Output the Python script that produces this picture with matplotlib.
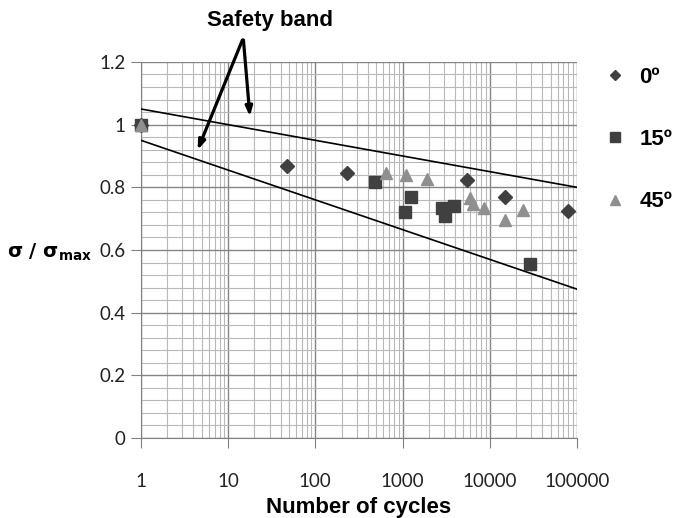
import numpy as np
import matplotlib
matplotlib.use('Agg')
import matplotlib.pyplot as plt
from matplotlib.ticker import LogLocator, MultipleLocator, FixedLocator
from matplotlib.lines import Line2D

# data
cycles_0 = [1, 47, 230, 5500, 15000, 80000]
stress_0 = [1.0, 0.868, 0.845, 0.822, 0.770, 0.724]

cycles_15 = [1, 480, 1070, 1240, 2800, 3100, 3900, 29000]
stress_15 = [1.0, 0.818, 0.720, 0.770, 0.735, 0.710, 0.740, 0.556]

cycles_45 = [1, 650, 1100, 1900, 6000, 6500, 8500, 15000, 24000]
stress_45 = [1.0, 0.845, 0.840, 0.825, 0.765, 0.748, 0.735, 0.696, 0.727]

band_x = [1, 100000]
band_upper = [1.05, 0.80]
band_lower = [0.95, 0.475]

legend_labels = ['0º', '15º', '45º']
x_ticks = [1, 10, 100, 1000, 10000, 100000]
x_tick_labels = ['1', '10', '100', '1000', '10000', '100000']
y_ticks = [0, 0.2, 0.4, 0.6, 0.8, 1.0, 1.2]
y_tick_labels = ['0', '0.2', '0.4', '0.6', '0.8', '1', '1.2']

DARK = '#404040'
LIGHT = '#8f8f8f'

fig = plt.figure(figsize=(6.74, 5.18), dpi=100)
ax = fig.add_axes([0.209, 0.1544, 0.647, 0.726])

ax.set_xscale('log')
ax.set_xlim(1, 100000)
ax.set_ylim(0, 1.2)

# grid
ax.xaxis.set_major_locator(FixedLocator(x_ticks))
ax.xaxis.set_minor_locator(LogLocator(base=10, subs=np.arange(2, 10)))
ax.yaxis.set_major_locator(MultipleLocator(0.2))
ax.yaxis.set_minor_locator(MultipleLocator(0.04))
ax.grid(which='major', color='#858585', linewidth=1.0)
ax.grid(which='minor', color='#b8b8b8', linewidth=0.8)
ax.set_axisbelow(True)

ax.set_xticks(x_ticks)
ax.set_xticklabels(x_tick_labels)
ax.set_yticks(y_ticks)
ax.set_yticklabels(y_tick_labels)
ax.tick_params(axis='both', which='minor', length=0)
ax.tick_params(axis='x', which='major', length=7, color='#808080',
               pad=18, labelsize=13.5, labelcolor='#222222')
ax.tick_params(axis='y', which='major', length=7, color='#808080',
               pad=4, labelsize=13.5, labelcolor='#222222')
for lbl in ax.get_xticklabels() + ax.get_yticklabels():
    lbl.set_family('Lato')

for side in ['top', 'right']:
    ax.spines[side].set_visible(False)
ax.spines['left'].set_color('#808080')
ax.spines['bottom'].set_color('#808080')

# safety band
ax.plot(band_x, band_upper, color='black', linewidth=1.2, zorder=3)
ax.plot(band_x, band_lower, color='black', linewidth=1.2, zorder=3)

# data points
ax.plot(cycles_0, stress_0, linestyle='none', marker='D', markersize=7,
        color=DARK, zorder=4, clip_on=False)
ax.plot(cycles_15, stress_15, linestyle='none', marker='s', markersize=8,
        color=DARK, zorder=5, clip_on=False)
ax.plot(cycles_45, stress_45, linestyle='none', marker='^', markersize=8,
        color=LIGHT, zorder=6, clip_on=False)

# annotation
ax.text(30, 1.331, 'Safety band', ha='center', va='center', fontsize=16,
        fontweight='bold', family='Liberation Sans', clip_on=False)
arrow_kw = dict(arrowstyle='-|>,head_length=0.55,head_width=0.2',
                color='black', linewidth=2.3, shrinkA=0, shrinkB=0)
ax.annotate('', xy=(4.47, 0.919), xytext=(14.6, 1.27), textcoords='data',
            arrowprops=arrow_kw, annotation_clip=False)
ax.annotate('', xy=(17.8, 1.026), xytext=(15.0, 1.27), textcoords='data',
            arrowprops=arrow_kw, annotation_clip=False)

# legend
handles = [
    Line2D([], [], linestyle='none', marker='D', markersize=5, color=DARK),
    Line2D([], [], linestyle='none', marker='s', markersize=6.5, color=DARK),
    Line2D([], [], linestyle='none', marker='^', markersize=6.5, color=LIGHT),
]
fig.legend(handles, legend_labels, loc='upper left',
           bbox_to_anchor=(0.866, 0.909), frameon=False, labelspacing=1.85,
           handlelength=1.0, handletextpad=0.6,
           prop={'family': 'Liberation Sans', 'weight': 'bold', 'size': 16})

# axis labels
fig.text(0.532, 0.02, 'Number of cycles', ha='center', va='center',
         fontsize=16, fontweight='bold', family='Liberation Sans')
fig.text(0.074, 0.512, r'σ / σ$_{\mathbf{max}}$', ha='center', va='center',
         fontsize=14, fontweight='bold', family='DejaVu Sans')

fig.savefig('out.png', dpi=100)
